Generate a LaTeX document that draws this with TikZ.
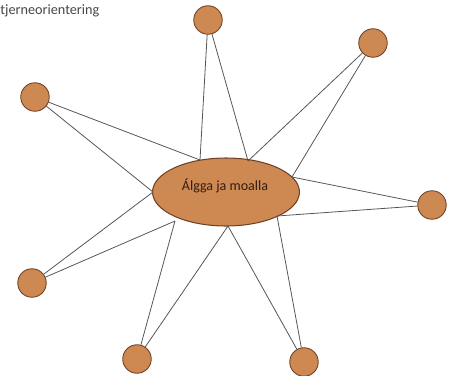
\documentclass[tikz,border=0pt]{standalone}
\usepackage{fontspec}
\setmainfont{Carlito}
\usetikzlibrary{shapes.geometric}
\definecolor{ballfill}{RGB}{206,136,82}
\definecolor{balledge}{RGB}{110,66,38}
\definecolor{spoke}{RGB}{85,85,85}
\definecolor{captiongray}{RGB}{70,70,70}
\definecolor{hubtext}{RGB}{50,30,20}
\begin{document}
\begin{tikzpicture}[x=0.02cm, y=-0.02cm,
    ball/.style={circle, draw=balledge, fill=ballfill, line width=0.5pt, minimum size=0.57cm, inner sep=0pt},
    hubnode/.style={ellipse, draw=balledge, fill=ballfill, line width=0.6pt, minimum width=2.94cm, minimum height=1.36cm, inner sep=0pt},
    spokeline/.style={draw=spoke, line width=0.45pt}]
    \useasboundingbox (0,0) rectangle (454,376);

    % Title in the corner
    \node[anchor=west, inner sep=0pt, text=captiongray, font=\fontsize{8.1}{9}\selectfont] (title) at (0,11) {tjerneorientering};

    % Central ellipse
    \node[hubnode] (hub) at (226,192) {};
    \node[inner sep=0pt, text=hubtext, font=\fontsize{8}{10}\selectfont] (hublabel) at (225,186) {Álgga ja moalla};

    % Outer circles
    \node[ball] (top) at (208,20) {};
    \node[ball] (topright) at (373,43) {};
    \node[ball] (left) at (35,97) {};
    \node[ball] (right) at (432,205) {};
    \node[ball] (bottomleft) at (32,283) {};
    \node[ball] (bottom) at (137,359) {};
    \node[ball] (bottomright) at (304,362) {};

    % Star points on the ellipse
    \coordinate (pA) at (153,192);
    \coordinate (pB) at (200,160);
    \coordinate (pC) at (248,161);
    \coordinate (pD) at (292,177);
    \coordinate (pE) at (277,216);
    \coordinate (pF) at (228,226);
    \coordinate (pG) at (175,221);

    % Two spokes from every circle
    \draw[spokeline] (left) -- (pB);
    \draw[spokeline] (left) -- (pA);
    \draw[spokeline] (top) -- (pB);
    \draw[spokeline] (top) -- (pC);
    \draw[spokeline] (topright) -- (pC);
    \draw[spokeline] (topright) -- (pD);
    \draw[spokeline] (right) -- (pD);
    \draw[spokeline] (right) -- (pE);
    \draw[spokeline] (bottomright) -- (pE);
    \draw[spokeline] (bottomright) -- (pF);
    \draw[spokeline] (bottom) -- (pF);
    \draw[spokeline] (bottom) -- (pG);
    \draw[spokeline] (bottomleft) -- (pG);
    \draw[spokeline] (bottomleft) -- (pA);
\end{tikzpicture}
\end{document}
